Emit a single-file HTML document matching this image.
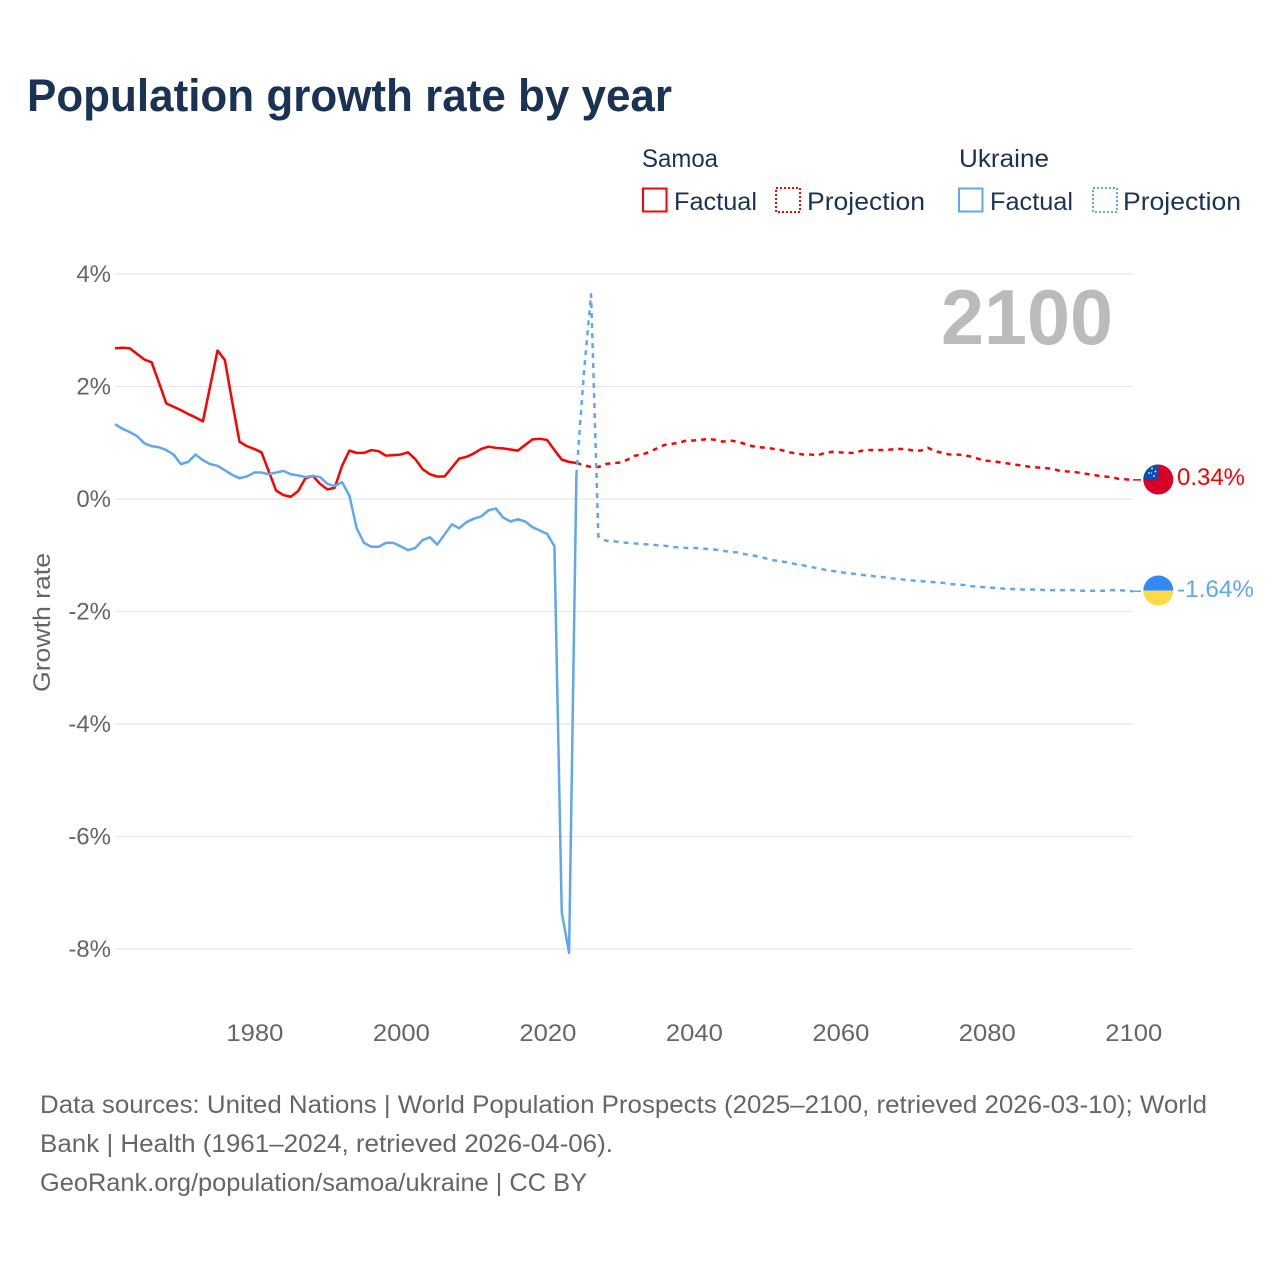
<!DOCTYPE html>
<html lang="en">
<head>
<meta charset="utf-8">
<title>Population growth rate by year</title>
<style>
html,body{margin:0;padding:0;background:#fff;}
svg{display:block;font-family:"Liberation Sans",sans-serif;}
</style>
</head>
<body>
<svg id="chart" width="1280" height="1280" viewBox="0 0 1280 1280" xmlns="http://www.w3.org/2000/svg">
  <defs>
    <clipPath id="flagClipSamoa"><circle cx="1158.3" cy="479.5" r="15"/></clipPath>
    <clipPath id="flagClipUkraine"><circle cx="1158.3" cy="590.5" r="15"/></clipPath>
  </defs>
  <rect x="0" y="0" width="1280" height="1280" fill="#fff"/>
  <text x="27" y="111" font-size="45" font-weight="700" fill="#1a3354" textLength="645" lengthAdjust="spacingAndGlyphs">Population growth rate by year</text>

  <g id="legend" font-size="25" fill="#1a3354">
    <text x="642" y="167" textLength="76" lengthAdjust="spacingAndGlyphs">Samoa</text>
    <rect x="643" y="188.500" width="23.500" height="23" fill="none" stroke="#ff0000" stroke-width="2"/>
    <text x="674" y="210" textLength="83" lengthAdjust="spacingAndGlyphs">Factual</text>
    <rect x="776" y="188" width="24" height="24" fill="none" stroke="#ff0000" stroke-width="2" stroke-dasharray="2 2"/>
    <text x="807" y="210" textLength="118" lengthAdjust="spacingAndGlyphs">Projection</text>
    <text x="959" y="167" textLength="90" lengthAdjust="spacingAndGlyphs">Ukraine</text>
    <rect x="959" y="188.500" width="23.500" height="23" fill="none" stroke="#5fa8ee" stroke-width="2"/>
    <text x="990" y="210" textLength="83" lengthAdjust="spacingAndGlyphs">Factual</text>
    <rect x="1093" y="188" width="24" height="24" fill="none" stroke="#5fa8ee" stroke-width="2" stroke-dasharray="2 2"/>
    <text x="1123" y="210" textLength="118" lengthAdjust="spacingAndGlyphs">Projection</text>
  </g>

  <g id="gridLayer"></g>
  <g id="yTickLayer" font-size="24" fill="#666" text-anchor="end"></g>
  <g id="xTickLayer" font-size="24" fill="#666" text-anchor="middle"></g>

  <text transform="translate(50,622.500) rotate(-90)" font-size="24" fill="#666" text-anchor="middle" textLength="139" lengthAdjust="spacingAndGlyphs">Growth rate</text>
  <text x="941" y="344" font-size="78" font-weight="700" fill="#bbbbbb" textLength="172" lengthAdjust="spacingAndGlyphs">2100</text>

  <g id="seriesLayer"></g>

  <g clip-path="url(#flagClipSamoa)">
    <rect x="1143" y="464" width="31" height="31" fill="#d80027"/>
    <rect x="1143" y="464" width="15.300" height="15.500" fill="#0052b4"/>
    <circle cx="1152" cy="468.500" r="0.900" fill="#fff"/>
    <circle cx="1155.500" cy="471.500" r="0.900" fill="#fff"/>
    <circle cx="1149" cy="473" r="0.900" fill="#fff"/>
    <circle cx="1154" cy="476" r="0.900" fill="#fff"/>
    <circle cx="1151.500" cy="473" r="0.600" fill="#fff"/>
  </g>
  <g clip-path="url(#flagClipUkraine)">
    <rect x="1143" y="575" width="31" height="15.700" fill="#338af3"/>
    <rect x="1143" y="590.700" width="31" height="15.500" fill="#ffda44"/>
  </g>

  <text x="1177" y="485" font-size="24" fill="#ff0000" textLength="68" lengthAdjust="spacingAndGlyphs">0.34%</text>
  <text x="1177" y="597" font-size="24" fill="#5fa8ee" textLength="77" lengthAdjust="spacingAndGlyphs">-1.64%</text>

  <g font-size="25" fill="#666">
    <text x="40" y="1113" textLength="1167" lengthAdjust="spacingAndGlyphs">Data sources: United Nations | World Population Prospects (2025–2100, retrieved 2026-03-10); World</text>
    <text x="40" y="1152" textLength="573" lengthAdjust="spacingAndGlyphs">Bank | Health (1961–2024, retrieved 2026-04-06).</text>
    <text x="40" y="1191" textLength="547" lengthAdjust="spacingAndGlyphs">GeoRank.org/population/samoa/ukraine | CC BY</text>
  </g>
</svg>
<script>
const factualStartYear = 1961;
const projectionStartYear = 2024;
const xTickYears = [1980, 2000, 2020, 2040, 2060, 2080, 2100];
const yTickValues = [4, 2, 0, -2, -4, -6, -8];
const yTickLabels = ["4%", "2%", "0%", "-2%", "-4%", "-6%", "-8%"];

const samoaFactual = [
  2.68,2.69,2.68,2.58,2.48,2.43,2.07,1.70,1.64,1.58,
  1.51,1.45,1.38,2.01,2.64,2.47,1.73,1.02,0.94,0.89,
  0.83,0.49,0.15,0.07,0.04,0.14,0.37,0.41,0.27,0.17,
  0.20,0.59,0.86,0.82,0.82,0.87,0.85,0.77,0.78,0.79,
  0.83,0.71,0.53,0.44,0.40,0.40,0.56,0.72,0.75,0.81,
  0.89,0.93,0.91,0.90,0.88,0.86,0.96,1.06,1.07,1.05,
  0.87,0.70,0.66,0.64
];
const samoaProjection = [
  0.64,0.60,0.57,0.57,0.62,0.64,0.65,0.70,0.77,0.79,
  0.84,0.90,0.96,0.98,1.00,1.04,1.04,1.05,1.07,1.05,
  1.02,1.04,1.02,0.98,0.94,0.92,0.91,0.89,0.87,0.83,
  0.81,0.79,0.79,0.78,0.82,0.84,0.83,0.82,0.82,0.86,
  0.87,0.87,0.87,0.88,0.89,0.89,0.86,0.86,0.91,0.85,
  0.82,0.79,0.79,0.78,0.75,0.71,0.68,0.67,0.65,0.63,
  0.61,0.59,0.57,0.56,0.55,0.54,0.50,0.49,0.48,0.46,
  0.44,0.42,0.40,0.39,0.36,0.35,0.34
];
const ukraineFactual = [
  1.33,1.25,1.19,1.12,0.99,0.94,0.92,0.87,0.79,0.62,
  0.66,0.79,0.69,0.62,0.59,0.51,0.43,0.37,0.40,0.47,
  0.47,0.44,0.47,0.50,0.44,0.42,0.39,0.41,0.39,0.27,
  0.23,0.30,0.06,-0.52,-0.78,-0.85,-0.85,-0.78,-0.78,-0.84,
  -0.91,-0.87,-0.73,-0.68,-0.81,-0.63,-0.45,-0.52,-0.41,-0.35,
  -0.31,-0.20,-0.17,-0.33,-0.40,-0.36,-0.40,-0.50,-0.56,-0.62,
  -0.84,-7.35,-8.07,0.43
];
const ukraineProjection = [
  0.43,2.20,3.64,-0.67,-0.74,-0.75,-0.77,-0.78,-0.79,-0.80,
  -0.81,-0.82,-0.83,-0.85,-0.86,-0.87,-0.87,-0.88,-0.89,-0.90,
  -0.92,-0.94,-0.95,-0.98,-1.00,-1.03,-1.06,-1.09,-1.11,-1.13,
  -1.16,-1.18,-1.21,-1.23,-1.26,-1.28,-1.30,-1.32,-1.33,-1.35,
  -1.36,-1.38,-1.39,-1.41,-1.42,-1.44,-1.45,-1.46,-1.47,-1.48,
  -1.49,-1.51,-1.52,-1.53,-1.55,-1.56,-1.57,-1.58,-1.59,-1.60,
  -1.60,-1.61,-1.61,-1.61,-1.62,-1.62,-1.62,-1.62,-1.62,-1.63,
  -1.63,-1.63,-1.63,-1.62,-1.62,-1.63,-1.64
];

const SVG_NS = "http://www.w3.org/2000/svg";
const RED = "#ff0000";
const BLUE = "#5fa8ee";
const xScale = (year) => 115 + (year - 1961) * (1133 - 115) / (2100 - 1961);
const yScale = (value) => 499 - value * 56.25;

const gridLayer = document.getElementById("gridLayer");
const yTickLayer = document.getElementById("yTickLayer");
const xTickLayer = document.getElementById("xTickLayer");
const seriesLayer = document.getElementById("seriesLayer");

yTickValues.forEach((value, i) => {
  const line = document.createElementNS(SVG_NS, "line");
  
  
  line.setAttribute("x1", xScale(1961));
  line.setAttribute("x2", xScale(2100));
  line.setAttribute("y1", yScale(value));
  line.setAttribute("y2", yScale(value));
  line.setAttribute("stroke", "#e8e8e8");
  line.setAttribute("stroke-width", "1.3");
  gridLayer.appendChild(line);

  const label = document.createElementNS(SVG_NS, "text");
  
  
  label.setAttribute("x", 111);
  label.setAttribute("y", yScale(value) + 8);
  label.textContent = yTickLabels[i];
  yTickLayer.appendChild(label);
});

xTickYears.forEach((year) => {
  const label = document.createElementNS(SVG_NS, "text");
  
  
  label.setAttribute("x", xScale(year) + 0.8);
  label.setAttribute("y", 1041);
  label.setAttribute("textLength", "57");
  label.setAttribute("lengthAdjust", "spacingAndGlyphs");
  label.textContent = String(year);
  xTickLayer.appendChild(label);
});

function pathFrom(values, startYear) {
  return values.map((v, i) => (i ? "L" : "M") + xScale(startYear + i).toFixed(2) + " " + yScale(v).toFixed(2)).join(" ");
}

function drawSeries(values, startYear, color, dashed, name) {
  const path = document.createElementNS(SVG_NS, "path");
  
  
  path.setAttribute("d", pathFrom(values, startYear));
  path.setAttribute("fill", "none");
  path.setAttribute("stroke", color);
  path.setAttribute("stroke-width", "2.5");
  path.setAttribute("stroke-linejoin", "round");
  if (dashed) path.setAttribute("stroke-dasharray", "5 5");
  seriesLayer.appendChild(path);
}

function drawConnector(values, color, name) {
  const last = values[values.length - 1];
  const line = document.createElementNS(SVG_NS, "line");
  
  
  line.setAttribute("x1", xScale(2100));
  line.setAttribute("x2", 1141);
  line.setAttribute("y1", yScale(last));
  line.setAttribute("y2", yScale(last));
  line.setAttribute("stroke", color);
  line.setAttribute("stroke-width", "1.5");
  seriesLayer.appendChild(line);
}

drawSeries(samoaFactual, factualStartYear, RED, false, "samoa-factual-line");
drawSeries(samoaProjection, projectionStartYear, RED, true, "samoa-projection-line");
drawSeries(ukraineFactual, factualStartYear, BLUE, false, "ukraine-factual-line");
drawSeries(ukraineProjection, projectionStartYear, BLUE, true, "ukraine-projection-line");
drawConnector(samoaProjection, RED, "samoa-end-connector");
drawConnector(ukraineProjection, BLUE, "ukraine-end-connector");
</script>
</body>
</html>
